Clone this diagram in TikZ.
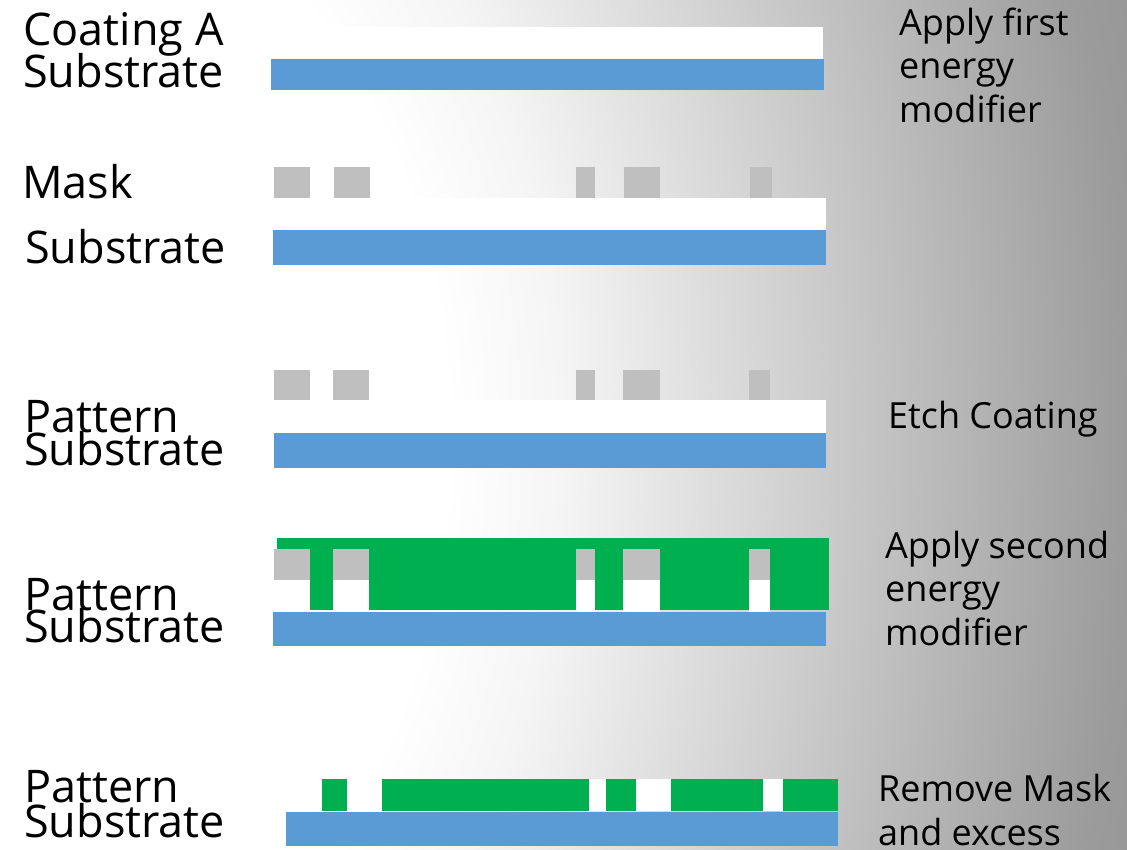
\documentclass[tikz,border=0pt]{standalone}
\usepackage{fontspec}
\setmainfont{Open Sans}

\definecolor{subblue}{HTML}{5B9BD5}
\definecolor{fillgreen}{HTML}{00B050}
\definecolor{maskgray}{HTML}{BFBFBF}
\definecolor{glowin}{gray}{0.96}
\definecolor{glowedge}{gray}{0.61}
\definecolor{glowfar}{gray}{0.45}
% path box maps onto the central 50bp square of the shading
\pgfdeclareradialshading{backglow}{\pgfpoint{0bp}{0bp}}%
  {color(0bp)=(white); color(9.5bp)=(white); color(12bp)=(glowin);
   color(24bp)=(glowedge); color(35bp)=(glowfar); color(50bp)=(glowfar)}

\tikzstyle{substrate}=[fill=subblue]
\tikzstyle{coating}=[fill=white]
\tikzstyle{maskblk}=[fill=maskgray]
\tikzstyle{second}=[fill=fillgreen]
\tikzstyle{lbl}=[anchor=base west, inner sep=0pt, font=\fontsize{45}{48}\selectfont]
\tikzstyle{note}=[anchor=base west, inner sep=0pt, font=\fontsize{36}{43}\selectfont]

\begin{document}
\begin{tikzpicture}[x=1pt,y=-1pt]
\useasboundingbox (0,0) rectangle (1127,849);
\begin{scope}
\clip (0,0) rectangle (1127,849);
\shade[shading=backglow] (-1175,-1117) rectangle (1175,1997);
\end{scope}
%
% coating A on substrate
\fill[coating] (271,27) rectangle (823,59);
\fill[substrate] (271,59) rectangle (824,90);
\draw (23,45) node[lbl](coatA){Coating A};
\draw (23,87) node[lbl](sub1){Substrate};
%
% mask laid on top
\foreach \a/\b in {274/310, 334/370, 576/595, 624/660, 750/772}
  \fill[maskblk] (\a,167) rectangle (\b,198);
\fill[coating] (273,198) rectangle (826,230);
\fill[substrate] (273,230) rectangle (826,265);
\draw (22,198) node[lbl](mask){Mask};
\draw (25,263) node[lbl](sub2){Substrate};
%
% after etching
\foreach \a/\b in {274/310, 333/369, 576/595, 623/660, 749/770}
  \fill[maskblk] (\a,370) rectangle (\b,401);
\fill[coating] (274,400) rectangle (826,433);
\fill[substrate] (274,433) rectangle (826,468);
\draw (24,432) node[lbl](pat3){Pattern};
\draw (24,465) node[lbl](sub3){Substrate};
%
% second coating poured over
\fill[second] (277,538) rectangle (829,610);
\foreach \a/\b in {274/310, 333/369, 576/595, 623/660, 749/770}{
  \fill[maskblk] (\a,549) rectangle (\b,580);
  \fill[coating] (\a,580) rectangle (\b,612);
}
\fill[substrate] (273,612) rectangle (826,646);
\draw (24,610) node[lbl](pat4){Pattern};
\draw (24,642) node[lbl](sub4){Substrate};
%
% mask removed
\fill[coating] (286,779) rectangle (838,811);
\foreach \a/\b in {322/347, 382/589, 606/636, 671/763, 783/838}
  \fill[second] (\a,779) rectangle (\b,811);
\fill[substrate] (286,812) rectangle (838,846);
\draw (24,802) node[lbl](pat5){Pattern};
\draw (24,837) node[lbl](sub5){Substrate};
%
% process steps
\draw (899,35) node[note](ap1a){Apply first};
\draw (899,78) node[note](ap1b){energy};
\draw (899,122) node[note](ap1c){modifier};
\draw (888,428) node[note](etch){Etch Coating};
\draw (885,558) node[note](ap2a){Apply second};
\draw (885,601) node[note](ap2b){energy};
\draw (885,645) node[note](ap2c){modifier};
\draw (878,801) node[note](rm1){Remove Mask};
\draw (878,845) node[note](rm2){and excess};
\end{tikzpicture}
\end{document}
